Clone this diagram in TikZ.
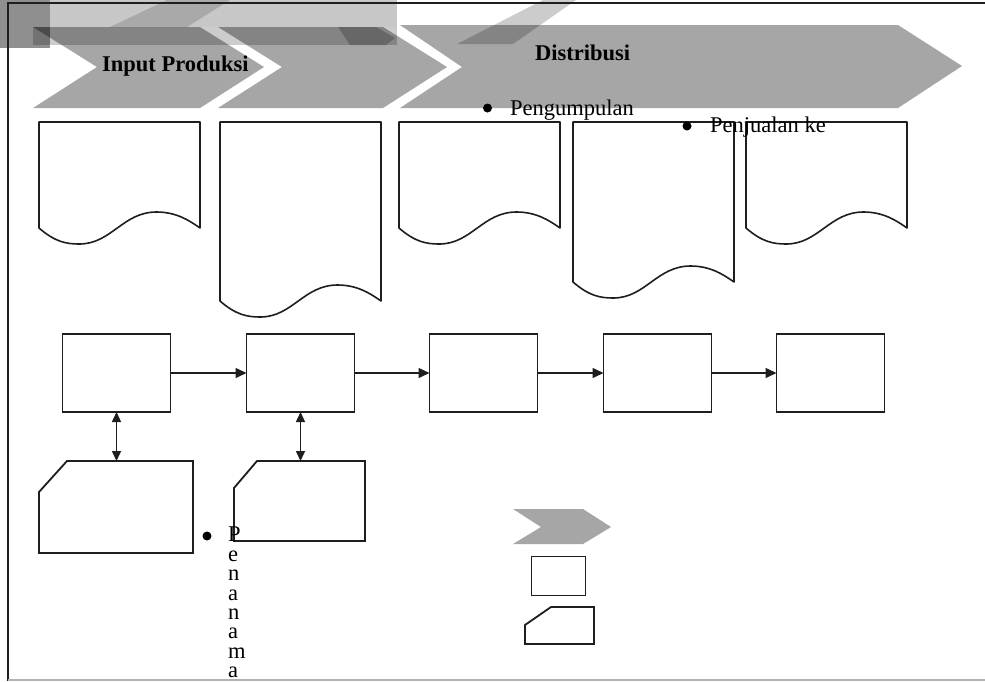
\documentclass[tikz,border=0pt]{standalone}
\usepackage{fontspec}
\setmainfont{Liberation Serif}
\usetikzlibrary{arrows.meta,calc}
\definecolor{chevgray}{HTML}{A6A6A6}
\definecolor{linegray}{HTML}{1E1E1E}
\newcommand\mydoc[4]{%
  \draw[docline] (#1,#3) -- (#1,#4)
    .. controls ({#1+0.10*(#2-#1)},{#4+14}) and ({#1+0.17*(#2-#1)},{#4+16}) .. ({#1+0.25*(#2-#1)},{#4+16})
    .. controls ({#1+0.45*(#2-#1)},{#4+16}) and ({#1+0.52*(#2-#1)},{#4-16}) .. ({#1+0.73*(#2-#1)},{#4-16})
    .. controls ({#1+0.85*(#2-#1)},{#4-16}) and ({#1+0.93*(#2-#1)},{#4-8}) .. (#2,#4)
    -- (#2,#3) -- cycle;}
\begin{document}
\begin{tikzpicture}[x=1pt,y=-1pt,
  proc/.style={draw=linegray,line width=1.8pt,minimum width=108pt,minimum height=78pt,inner sep=0pt,outer sep=0pt},
  cardbox/.style={draw=none,inner sep=0pt,outer sep=0pt},
  docline/.style={draw=linegray,line width=1.6pt,line join=round},
  cardline/.style={draw=linegray,line width=1.8pt},
  flow/.style={draw=linegray,line width=1.5pt,-{Triangle[length=11pt,width=10pt]}},
  both/.style={draw=linegray,line width=1.5pt,{Triangle[length=10pt,width=9pt]}-{Triangle[length=10pt,width=9pt]}},
  dot/.style={circle,fill=black,inner sep=0pt,minimum size=9pt},
  txt/.style={font=\fontsize{22.5}{19.4}\selectfont,inner sep=0pt,anchor=base west},
  ttl/.style={font=\fontsize{22.5}{19.4}\selectfont\bfseries,inner sep=0pt,anchor=base west},
]
\useasboundingbox (0,0) rectangle (985,681);
\fill[white] (0,0) rectangle (985,681);

% header chevrons
\fill[chevgray] (33,27) -- (200,27) -- (264,67) -- (200,108) -- (33,108) -- (97,67) -- cycle;
\fill[chevgray] (218,27) -- (383,27) -- (447,67) -- (383,108) -- (218,108) -- (282,67) -- cycle;
\fill[chevgray] (400,25) -- (898,25) -- (962,66) -- (898,108) -- (400,108) -- (462,67) -- cycle;

% ghost overlays
\fill[black,opacity=0.22] (50,0) rectangle (397,27);
\fill[black,opacity=0.15] (167,0) -- (230,0) -- (187,27) -- (110,27) -- cycle;
\fill[black,opacity=0.2] (33,27) rectangle (397,45);
\fill[black,opacity=0.22] (338,27) -- (376,27) -- (395,38) -- (386,45) -- (350,45) -- cycle;
\fill[black,opacity=0.44] (0,0) rectangle (50,48);
\fill[black,opacity=0.2] (543,0) -- (576,0) -- (513,44) -- (457,44) -- cycle;

% frame
\draw[linegray,line width=2pt] (7,2.5) -- (985,2.5);
\draw[linegray,line width=1.5pt] (8,2) -- (8,681);
\draw[black!30,line width=1.5pt] (8,680) -- (985,680);

% documents
\mydoc{39}{200}{122}{228}
\mydoc{220}{381}{122}{301}
\mydoc{399}{560}{122}{228}
\mydoc{573}{734}{122}{282}
\mydoc{746}{907}{122}{228}

% process boxes
\node[proc] (p1) at (116.5,373) {};
\node[proc] (p2) at (300.5,373) {};
\node[proc] (p3) at (483.5,373) {};
\node[proc] (p4) at (657.5,373) {};
\node[proc] (p5) at (830.5,373) {};
\draw[flow] (p1) -- (p2);
\draw[flow] (p2) -- (p3);
\draw[flow] (p3) -- (p4);
\draw[flow] (p4) -- (p5);

% cards
\node[cardbox,minimum width=154pt,minimum height=92pt] (c1) at (116,507) {};
\draw[cardline] ($(c1.north west)+(0,31)$) -- ($(c1.north west)+(28,0)$) -- (c1.north east) -- (c1.south east) -- (c1.south west) -- cycle;
\node[cardbox,minimum width=131pt,minimum height=80pt] (c2) at (299.5,501) {};
\draw[cardline] ($(c2.north west)+(0,27)$) -- ($(c2.north west)+(23,0)$) -- (c2.north east) -- (c2.south east) -- (c2.south west) -- cycle;
\draw[both] (p1.south) -- (p1.south |- c1.north);
\draw[both] (p2.south) -- (p2.south |- c2.north);

% legend
\fill[chevgray] (513,509) -- (583,509) -- (611,527) -- (583,544) -- (513,544) -- (541,527) -- cycle;
\node[proc,minimum width=54pt,minimum height=39pt] (lr) at (558.5,576) {};
\node[cardbox,minimum width=69pt,minimum height=37pt] (lc) at (559.5,625.5) {};
\draw[cardline] ($(lc.north west)+(0,18)$) -- ($(lc.north west)+(26,0)$) -- (lc.north east) -- (lc.south east) -- (lc.south west) -- cycle;

% texts
\node[ttl] (t1) at (102,71) {Input Produksi};
\node[ttl] (t2) at (535,60) {Distribusi};
\node[dot] (d1) at (487.5,108) {};
\node[txt] (b1) at (510,115) {Pengumpulan};
\node[dot] (d2) at (687,126) {};
\node[txt] (b2) at (710,132) {Penjualan ke};
\node[dot] (d3) at (207,536) {};
\node[font=\fontsize{22.5}{19.4}\selectfont,inner sep=0pt,anchor=north west,align=left] (v) at (228,527) {P\\e\\n\\a\\n\\a\\m\\a};
\end{tikzpicture}
\end{document}
